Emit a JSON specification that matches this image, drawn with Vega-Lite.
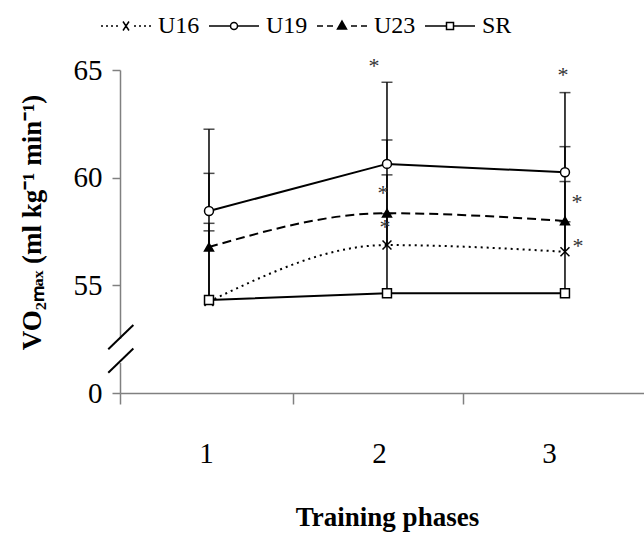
{
  "$schema": "https://vega.github.io/schema/vega-lite/v6.json",
  "width": 524,
  "height": 323,
  "autosize": {"type": "none"},
  "padding": {"left": 120, "top": 70, "right": 0, "bottom": 142},
  "background": "white",
  "config": {
    "view": {"stroke": null},
    "axis": {"grid": false},
    "font": "Liberation Serif"
  },
  "resolve": {"scale": {"shape": "independent"}},
  "datasets": {
    "stats": [
      {"phase": 1, "group": "U16", "mean": 54.25, "upper": 57.88},
      {"phase": 2, "group": "U16", "mean": 56.87, "upper": 60.13},
      {"phase": 3, "group": "U16", "mean": 56.56, "upper": 59.82},
      {"phase": 1, "group": "U19", "mean": 58.45, "upper": 62.25},
      {"phase": 2, "group": "U19", "mean": 60.64, "upper": 64.43},
      {"phase": 3, "group": "U19", "mean": 60.25, "upper": 63.95},
      {"phase": 1, "group": "U23", "mean": 56.78, "upper": 60.2},
      {"phase": 2, "group": "U23", "mean": 58.35, "upper": 61.75},
      {"phase": 3, "group": "U23", "mean": 57.99, "upper": 61.44},
      {"phase": 1, "group": "SR", "mean": 54.32, "upper": 57.53},
      {"phase": 2, "group": "SR", "mean": 54.63, "upper": 58.33},
      {"phase": 3, "group": "SR", "mean": 54.63, "upper": 57.95}
    ],
    "stars": [
      {"phase": 1.927, "mean": 65.31},
      {"phase": 1.978, "mean": 59.42},
      {"phase": 1.989, "mean": 57.84},
      {"phase": 2.989, "mean": 64.9},
      {"phase": 3.067, "mean": 59.0},
      {"phase": 3.073, "mean": 56.96}
    ],
    "gap": [
      {"phase": 0.5, "mean": 51.39, "upper": 52.51}
    ],
    "slashes": [
      {"phase": 0.434, "mean": 52.03, "phase2": 0.575, "upper": 53.16},
      {"phase": 0.434, "mean": 50.94, "phase2": 0.575, "upper": 52.07}
    ]
  },
  "layer": [
    {
      "data": {"name": "stats"},
      "mark": {"type": "rule", "stroke": "black", "strokeWidth": 1.5},
      "encoding": {
        "x": {
          "field": "phase", "type": "quantitative",
          "scale": {"domain": [0.5, 3.444], "nice": false, "zero": false},
          "axis": {
            "title": "Training phases",
            "values": [0.5, 1.472, 2.427],
            "labelExpr": "datum.value < 1 ? '1' : datum.value < 2 ? '2' : '3'",
            "labelOffset": 86,
            "labelFlush": false,
            "labelOverlap": false,
            "labelBaseline": "alphabetic",
            "labelPadding": 58,
            "tickSize": 11,
            "domainColor": "#808080",
            "domainWidth": 1.5,
            "tickColor": "#808080",
            "tickWidth": 1.5,
            "labelFont": "Liberation Serif",
            "labelFontSize": 29,
            "labelColor": "black",
            "titleFont": "Liberation Serif",
            "titleFontSize": 27,
            "titleFontWeight": "bold",
            "titleColor": "black",
            "titleX": 267,
            "titleY": 132,
            "titleBaseline": "alphabetic",
            "titleAlign": "center"
          }
        },
        "y": {
          "field": "mean", "type": "quantitative",
          "scale": {"domain": [50, 65], "nice": false, "zero": false},
          "axis": {
            "title": "VO₂ₘₐₓ (ml kg⁻¹ min⁻¹)",
            "values": [50, 55, 60, 65],
            "labelExpr": "datum.value == 50 ? '0' : datum.label",
            "domainColor": "#808080",
            "domainWidth": 1.5,
            "tickColor": "#808080",
            "tickWidth": 1.5,
            "tickSize": 8,
            "labelFont": "Liberation Serif",
            "labelFontSize": 29,
            "labelColor": "black",
            "labelPadding": 10,
            "titleFont": "Liberation Serif",
            "titleFontSize": 27,
            "titleFontWeight": "bold",
            "titleColor": "black",
            "titleX": -88,
            "titleY": 152,
            "titleAngle": 270,
            "titleAlign": "center",
            "titleBaseline": "middle"
          }
        },
        "y2": {"field": "upper"}
      }
    },
    {
      "data": {"name": "stats"},
      "mark": {"type": "tick", "orient": "horizontal", "size": 11, "thickness": 1.5, "color": "black"},
      "encoding": {
        "x": {"field": "phase", "type": "quantitative"},
        "y": {"field": "upper", "type": "quantitative"}
      }
    },
    {
      "data": {"name": "stats"},
      "transform": [{"filter": "datum.group == 'U16' || datum.group == 'U23'"}],
      "mark": {"type": "line", "interpolate": "monotone", "stroke": "black", "strokeWidth": 2},
      "encoding": {
        "x": {"field": "phase", "type": "quantitative"},
        "y": {"field": "mean", "type": "quantitative"},
        "strokeDash": {
          "field": "group", "type": "nominal",
          "scale": {"domain": ["U16", "U23"], "range": [[2, 4], [9, 5]]},
          "legend": null
        }
      }
    },
    {
      "data": {"name": "stats"},
      "transform": [{"filter": "datum.group == 'U19' || datum.group == 'SR'"}],
      "mark": {"type": "line", "interpolate": "linear", "stroke": "black", "strokeWidth": 2},
      "encoding": {
        "x": {"field": "phase", "type": "quantitative"},
        "y": {"field": "mean", "type": "quantitative"},
        "detail": {"field": "group", "type": "nominal"}
      }
    },
    {
      "data": {"name": "gap"},
      "mark": {"type": "rule", "stroke": "white", "strokeWidth": 5},
      "encoding": {
        "x": {"field": "phase", "type": "quantitative"},
        "y": {"field": "mean", "type": "quantitative"},
        "y2": {"field": "upper"}
      }
    },
    {
      "data": {"name": "slashes"},
      "mark": {"type": "rule", "stroke": "black", "strokeWidth": 2},
      "encoding": {
        "x": {"field": "phase", "type": "quantitative"},
        "y": {"field": "mean", "type": "quantitative"},
        "x2": {"field": "phase2"},
        "y2": {"field": "upper"}
      }
    },
    {
      "data": {"name": "stats"},
      "mark": {"type": "point", "size": 80, "stroke": "black", "strokeWidth": 1.5, "opacity": 1, "fillOpacity": 1},
      "encoding": {
        "x": {"field": "phase", "type": "quantitative"},
        "y": {"field": "mean", "type": "quantitative"},
        "shape": {
          "field": "group", "type": "nominal",
          "scale": {
            "domain": ["U16", "U19", "U23", "SR"],
            "range": ["M-1,-1L1,1M-1,1L1,-1", "circle", "triangle-up", "square"]
          },
          "legend": null
        },
        "fill": {
          "field": "group", "type": "nominal",
          "scale": {"domain": ["U16", "U19", "U23", "SR"], "range": ["transparent", "white", "black", "white"]},
          "legend": null
        }
      }
    },
    {
      "data": {"name": "stats"},
      "mark": {"type": "point", "size": 2500, "stroke": "black", "strokeWidth": 1.5, "opacity": 0},
      "encoding": {
        "x": {"field": "phase", "type": "quantitative"},
        "y": {"field": "mean", "type": "quantitative"},
        "shape": {
          "field": "group", "type": "nominal",
          "scale": {
            "domain": ["U16", "U19", "U23", "SR"],
            "range": [
              "M-1,0H-0.92M-0.8,0H-0.72M-0.6,0H-0.52M-0.4,0H-0.32M-0.12,-0.18L0.12,0.18M-0.12,0.18L0.12,-0.18M0.32,0H0.4M0.52,0H0.6M0.72,0H0.8M0.92,0H1",
              "M-1,0H-0.14M0.14,0H1M-0.14,0A0.14,0.14 0 1 0 0.14,0A0.14,0.14 0 1 0 -0.14,0Z",
              "M-1,0H-0.76M-0.6,0H-0.36M0.36,0H0.6M0.76,0H1M0,-0.2L0.18,0.12L-0.18,0.12ZM-0.02,-0.16H0.02M-0.045,-0.12H0.045M-0.07,-0.08H0.07M-0.09,-0.04H0.09M-0.11,0H0.11M-0.135,0.04H0.135M-0.155,0.08H0.155",
              "M-1,0H-0.14M0.14,0H1M-0.14,-0.14H0.14V0.14H-0.14Z"
            ]
          },
          "legend": {
            "title": null,
            "orient": "none",
            "direction": "horizontal",
            "legendX": -20,
            "legendY": -70,
            "padding": 0,
            "symbolSize": 2500,
            "symbolStrokeWidth": 1.5,
            "symbolFillColor": "white",
            "symbolOpacity": 1,
            "labelFont": "Liberation Serif",
            "labelFontSize": 24,
            "labelColor": "black",
            "labelOffset": 6,
            "columnPadding": 6
          }
        },
        "fill": {
          "field": "group", "type": "nominal",
          "legend": null
        }
      }
    },
    {
      "data": {"name": "stars"},
      "mark": {"type": "text", "text": "*", "font": "Liberation Serif", "fontSize": 22, "fill": "#333333", "baseline": "alphabetic", "align": "center", "dy": 10},
      "encoding": {
        "x": {"field": "phase", "type": "quantitative"},
        "y": {"field": "mean", "type": "quantitative"}
      }
    }
  ]
}
